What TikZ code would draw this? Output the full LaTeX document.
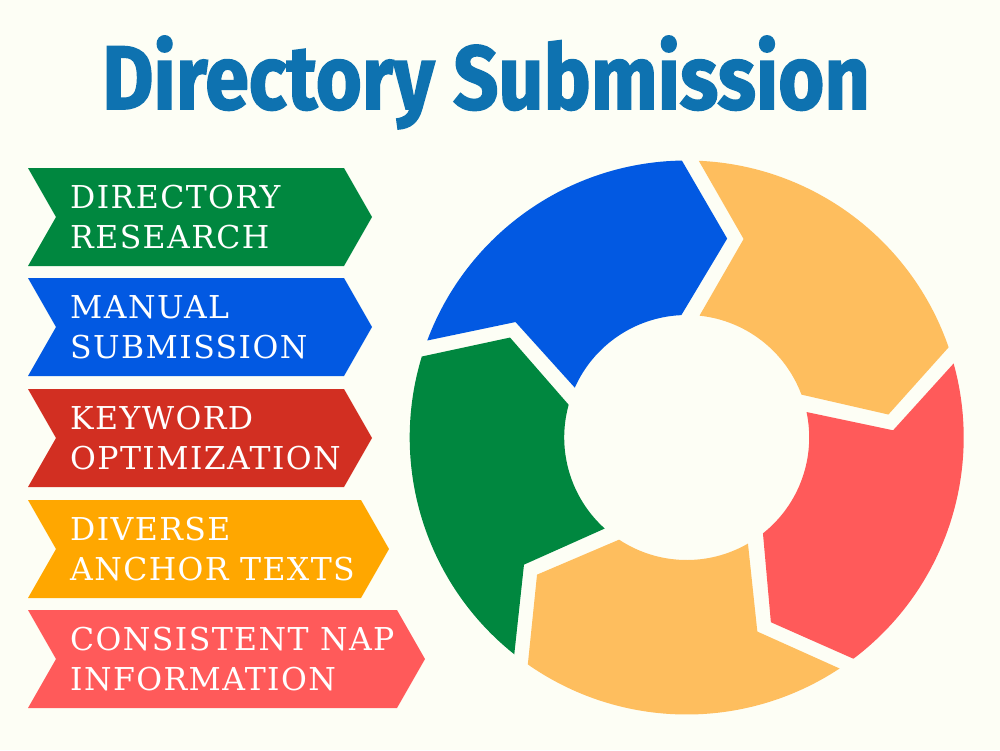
\documentclass[tikz,border=0pt]{standalone}
\usepackage{fontspec}
\newfontfamily\titlefont{Fira Sans}[BoldFeatures={FakeBold=1.8}]
\newfontfamily\labelfont[LetterSpace=4.5]{DejaVu Serif}
\definecolor{bg}{HTML}{FDFEF5}
\definecolor{titleblue}{HTML}{0E72B0}
\definecolor{dgreen}{HTML}{00873F}
\definecolor{dblue}{HTML}{0259E2}
\definecolor{dred}{HTML}{D22F22}
\definecolor{amber}{HTML}{FFA700}
\definecolor{coral}{HTML}{FF5A5A}
\definecolor{ryellow}{HTML}{FEBE5E}
\newcommand\ringseg[3]{%
  \fill[#3] ({#1-4}:277) arc[start angle={#1-4}, end angle={#2-0.5}, radius=277]
    -- ({#2-13}:203) -- ({#2+1}:122.5)
    arc[start angle={#2+1}, end angle={#1-7.5}, radius=122.5]
    -- ({#1-17.5}:206.5) -- cycle;}
\begin{document}
\begin{tikzpicture}[x=1pt,y=-1pt,
  lab/.style={anchor=base west, text=white, inner sep=0pt, align=left,
    font=\labelfont\fontsize{31.5}{40}\selectfont}]
\fill[bg] (0,0) rectangle (1000,750);
\useasboundingbox (0,0) rectangle (1000,750);
\node[anchor=base, text=titleblue, inner sep=0pt] (title) at (486,109)
  {\scalebox{0.85}[0.97]{\titlefont\bfseries\fontsize{93}{100}\selectfont Directory Submission}};
\fill[dgreen] (28,168) -- (344,168) -- (372,217) -- (344,266) -- (28,266) -- (56,217) -- cycle;
\node[lab] (l1) at (70,248) {DIRECTORY\\RESEARCH};
\fill[dblue] (28,278) -- (344,278) -- (372,327) -- (344,376) -- (28,376) -- (56,327) -- cycle;
\node[lab] (l2) at (70,358) {MANUAL\\SUBMISSION};
\fill[dred] (28,389) -- (344,389) -- (372,438) -- (344,487) -- (28,487) -- (56,438) -- cycle;
\node[lab] (l3) at (70,469) {KEYWORD\\OPTIMIZATION};
\fill[amber] (28,500) -- (361,500) -- (389,549) -- (361,598) -- (28,598) -- (56,549) -- cycle;
\node[lab] (l4) at (70,580) {DIVERSE\\ANCHOR TEXTS};
\fill[coral] (28,610) -- (397,610) -- (425,659) -- (397,708) -- (28,708) -- (56,659) -- cycle;
\node[lab] (l5) at (70,690) {CONSISTENT NAP\\INFORMATION};
\begin{scope}[shift={(686.7,437.5)}, y=1pt]
  \ringseg{163.5}{91.5}{dblue}
  \ringseg{91.5}{19.5}{ryellow}
  \ringseg{19.5}{-52.5}{coral}
  \ringseg{-52.5}{-124.5}{ryellow}
  \ringseg{-124.5}{-196.5}{dgreen}
\end{scope}
\end{tikzpicture}
\end{document}
